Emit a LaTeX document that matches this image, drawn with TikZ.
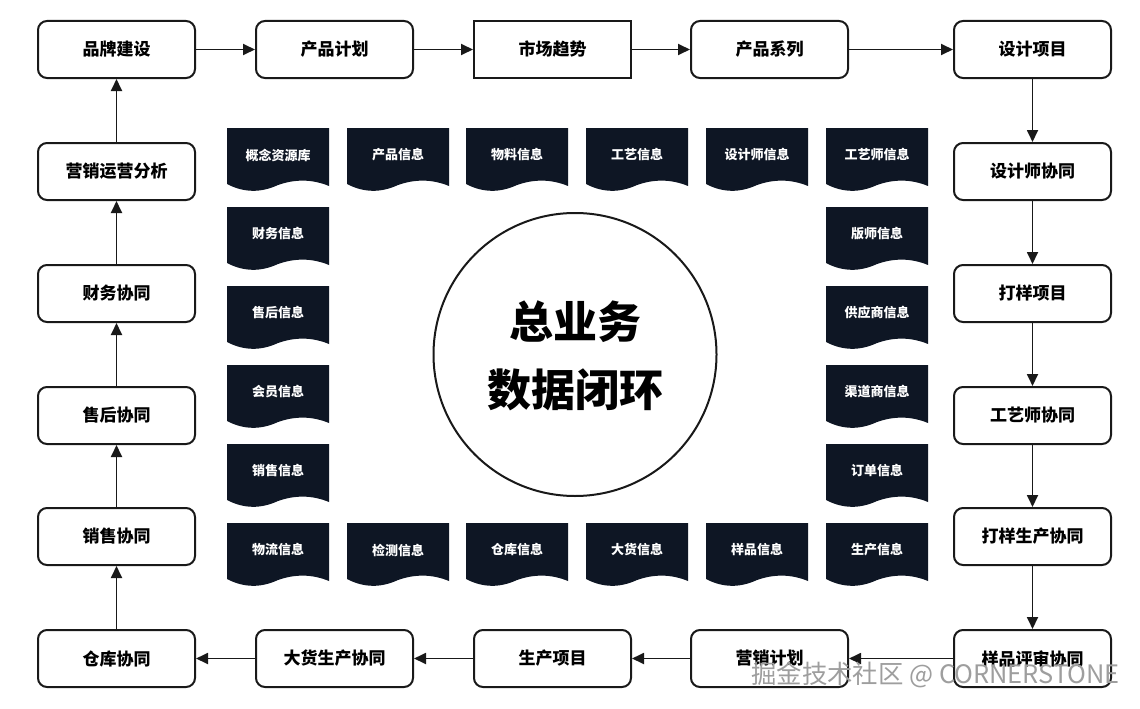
\documentclass[tikz,border=0pt]{standalone}
\usepackage{fontspec}
\setmainfont{Noto Sans CJK SC}
\usetikzlibrary{arrows.meta}
\definecolor{docfill}{HTML}{0E1624}
\newcommand\infodoc[4]{%
  \fill[docfill] (#1,#2) -- ({#1+102},#2) -- ({#1+102},{#2+58})
    .. controls ({#1+85},{#2+51}) and ({#1+68},{#2+51}) .. ({#1+51},{#2+57})
    .. controls ({#1+34},{#2+64.9}) and ({#1+17},{#2+64.9}) .. (#1,{#2+56}) -- cycle;
  \node[doctext] (#3) at ({#1+51},{#2+27}) {#4};}
\begin{document}
\begin{tikzpicture}[x=1pt,y=-1pt,
  box/.style={draw=black!90,line width=2pt,rounded corners=9pt,minimum width=157pt,minimum height=57pt,inner sep=0pt,font=\fontsize{17}{20}\selectfont\bfseries},
  sqbox/.style={box,rounded corners=0pt},
  arr/.style={line width=1.8pt,draw=black!90,-{Triangle[length=12pt,width=11pt]}},
  doctext/.style={text=white,font=\fontsize{13}{15}\selectfont\bfseries,inner sep=0pt}]
\fill[white] (0,0) rectangle (1140,709);
\useasboundingbox (0,0) rectangle (1140,709);
% top row
\node[box] (brand) at (116.5,49.5) {品牌建设};
\node[box] (plan) at (334.5,49.5) {产品计划};
\node[sqbox] (trend) at (552.5,49.5) {市场趋势};
\node[box] (series) at (769.5,49.5) {产品系列};
\node[box] (design) at (1032.5,49.5) {设计项目};
% right column
\node[box] (designer) at (1032.5,171.5) {设计师协同};
\node[box] (proof) at (1032.5,293.5) {打样项目};
\node[box] (craft) at (1032.5,415.5) {工艺师协同};
\node[box] (proofprod) at (1032.5,536.5) {打样生产协同};
\node[box] (review) at (1032.5,658.5) {样品评审协同};
% bottom row
\node[box] (mktplan) at (769.5,658.5) {营销计划};
\node[box] (prodproj) at (552.5,658.5) {生产项目};
\node[box] (bulk) at (334.5,658.5) {大货生产协同};
\node[box] (warehouse) at (116.5,658.5) {仓库协同};
% left column
\node[box] (sales) at (116.5,536.5) {销售协同};
\node[box] (aftersale) at (116.5,415.5) {售后协同};
\node[box] (finance) at (116.5,293.5) {财务协同};
\node[box] (ops) at (116.5,171.5) {营销运营分析};
% arrows
\draw[arr] (brand) -- (plan);
\draw[arr] (plan) -- (trend);
\draw[arr] (trend) -- (series);
\draw[arr] (series) -- (design);
\draw[arr] (design) -- (designer);
\draw[arr] (designer) -- (proof);
\draw[arr] (proof) -- (craft);
\draw[arr] (craft) -- (proofprod);
\draw[arr] (proofprod) -- (review);
\draw[arr] (review) -- (mktplan);
\draw[arr] (mktplan) -- (prodproj);
\draw[arr] (prodproj) -- (bulk);
\draw[arr] (bulk) -- (warehouse);
\draw[arr] (warehouse) -- (sales);
\draw[arr] (sales) -- (aftersale);
\draw[arr] (aftersale) -- (finance);
\draw[arr] (finance) -- (ops);
\draw[arr] (ops) -- (brand);
% documents
\infodoc{227}{128}{d1}{概念资源库}
\infodoc{347}{128}{d2}{产品信息}
\infodoc{466}{128}{d3}{物料信息}
\infodoc{586}{128}{d4}{工艺信息}
\infodoc{706}{128}{d5}{设计师信息}
\infodoc{826}{128}{d6}{工艺师信息}
\infodoc{227}{207}{d7}{财务信息}
\infodoc{227}{286}{d8}{售后信息}
\infodoc{227}{365}{d9}{会员信息}
\infodoc{227}{444}{d10}{销售信息}
\infodoc{826}{207}{d11}{版师信息}
\infodoc{826}{286}{d12}{供应商信息}
\infodoc{826}{365}{d13}{渠道商信息}
\infodoc{826}{444}{d14}{订单信息}
\infodoc{227}{523}{d15}{物流信息}
\infodoc{347}{523}{d16}{检测信息}
\infodoc{466}{523}{d17}{仓库信息}
\infodoc{586}{523}{d18}{大货信息}
\infodoc{706}{523}{d19}{样品信息}
\infodoc{826}{523}{d20}{生产信息}
% centre
\node[circle,draw=black!90,line width=2pt,minimum size=283pt,inner sep=0pt] (hub) at (575,354.5) {};
\node[align=center,font=\fontsize{44}{68}\selectfont\bfseries] (hubtext) at (575,356) {总业务\\数据闭环};
% watermark
\node[anchor=west,text=black!38,font=\fontsize{25.4}{27}\selectfont,inner sep=0pt] (wm) at (751,675) {掘金技术社区 @ CORNERSTONE};
\end{tikzpicture}
\end{document}
